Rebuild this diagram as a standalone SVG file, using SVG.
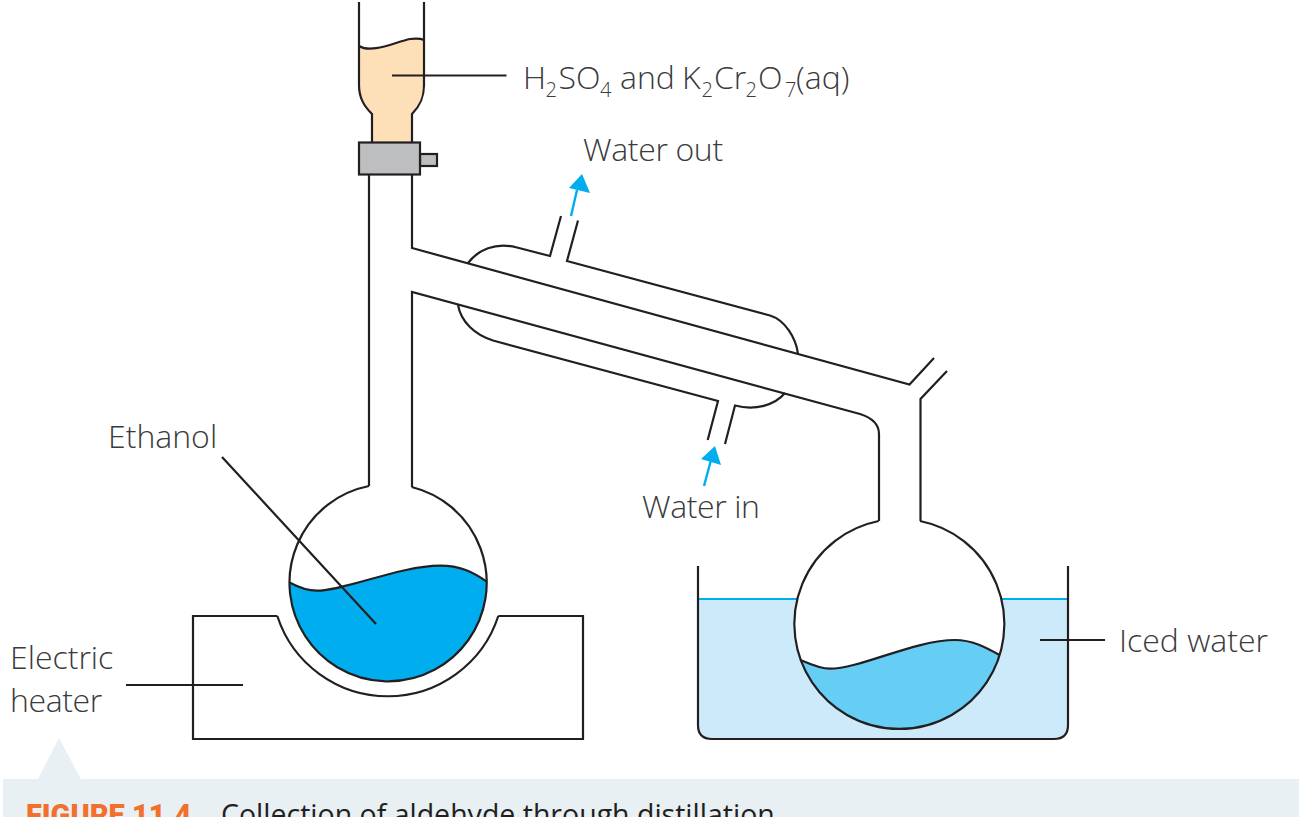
<svg xmlns="http://www.w3.org/2000/svg" width="1299" height="817" viewBox="0 0 1299 817">
<style>
.l{fill:none;stroke:#231f20;stroke-width:2.2}
.o{stroke:#231f20;stroke-width:2.2}
.t{font-family:"Open Sans","Noto Sans","Liberation Sans",sans-serif;font-weight:300;font-size:32px;fill:#3b3a3c}
.s{font-size:20px}
.a{fill:none;stroke:#00aeef;stroke-width:2.4}
.h{fill:#00aeef}
</style>
<rect width="1299" height="817" fill="#fff"/>
<g id="caption">
<path d="M3 817V779H38L59 738L81 779H1299V817Z" fill="#e8f0f4"/>
<text x="26" y="825" font-family="Roboto,'Liberation Sans',sans-serif" font-weight="900" font-size="29" fill="#f26f2c">FIGURE 11.4</text>
<text x="221" y="825" font-family="'Open Sans','Noto Sans',sans-serif" font-size="28.5" fill="#231f20">Collection of aldehyde through distillation</text>
</g>
<g id="iced-water-bath">
<path d="M698 599H1068V725Q1068 739 1054 739H712Q698 739 698 725Z" fill="#cdeafa"/>
<path d="M698 599H1068" fill="none" stroke="#00aeef" stroke-width="2"/>
<path class="l" d="M698 566V725Q698 739 712 739H1054Q1068 739 1068 725V566"/>
</g>
<g id="receiving-flask">
<circle cx="899.3" cy="624" r="105" fill="#fff"/>
<path d="M800.7 660C810 664 820 668.7 830 668.7C860 668.7 915 640 955 640C972 640 985 647 1000 655.3A105 105 0 0 1 800.7 660Z" fill="#66cdf5"/>
<path class="l" d="M800.7 660C810 664 820 668.7 830 668.7C860 668.7 915 640 955 640C972 640 985 647 1000 655.3"/>
<path class="l" d="M878.7 521A105 105 0 1 0 920 521"/>
</g>
<g id="heater">
<path class="l" d="M277.3 616H193V739H583V616H498.3"/>
<path class="l" d="M277.3 616A116.2 116.2 0 0 0 498.3 616"/>
</g>
<g id="reaction-flask">
<path d="M289.5 582.5C298 587 306 590.7 316.7 590.7C345 590.7 400 565.7 440 565.7C460 565.7 473 572 486.7 581.7A98.6 98.6 0 0 1 289.5 582.5Z" fill="#00aeef"/>
<path class="l" d="M289.5 582.5C298 587 306 590.7 316.7 590.7C345 590.7 400 565.7 440 565.7C460 565.7 473 572 486.7 581.7"/>
<path class="l" d="M369 486A98.6 98.6 0 1 0 411.7 487"/>
</g>
<g id="burette">
<path d="M359 46C372 54 395 42 410 39Q420 38 424 40V85C424 98 420 106 412 114V142H372V114C364 106 359 98 359 85Z" fill="#fde0b8"/>
<path class="l" d="M359 46C372 54 395 42 410 39Q420 38 424 40"/>
<path class="l" d="M359 2V85C359 98 364 106 372 114V142M424 2V85C424 98 420 106 412 114V142"/>
<rect class="o" x="420" y="154" width="17" height="12" fill="#bcbec0"/>
<rect class="o" x="359" y="142.500" width="61" height="32" fill="#bcbec0"/>
</g>
<g id="condenser">
<path class="l" d="M369 175V486M412 175V248L909.500 384.500L934 358M412 487V292L860 414Q879 420 879 434V521M947 371L920.500 399V521"/>
<path class="l" d="M468 263C478 250 495 242 517 247.500L550 256L561 216M578 220.500L567 261L770 315.500C785 320 796 338 798 354"/>
<path class="l" d="M458 305C461 322 475 335 493 340.500L718 401L707.700 440M725 444L735 405.500C755 411 775 405 785 393"/>
</g>
<g id="connectors">
<path class="l" d="M392 75.500H506.500M222 457L376 624M126 685H243M1040 640H1105"/>
<path class="a" d="M571 216L577 190"/>
<path class="h" d="M582 174L569 188L590 193Z"/>
<path class="a" d="M704 486L711 460"/>
<path class="h" d="M715 446L701 459L721 465Z"/>
</g>
<g id="labels">
<text class="t" y="88.500"><tspan x="523">H</tspan><tspan class="s" x="545.500" dy="8">2</tspan><tspan x="558.500" dy="-8">SO</tspan><tspan class="s" x="600" dy="8">4</tspan><tspan x="620" dy="-8">and</tspan><tspan x="682">K</tspan><tspan class="s" x="701.500" dy="8">2</tspan><tspan x="714" dy="-8">Cr</tspan><tspan class="s" x="745.500" dy="8">2</tspan><tspan x="758" dy="-8">O</tspan><tspan class="s" x="785" dy="8">7</tspan><tspan x="796" dy="-8">(aq)</tspan></text>
<text class="t" x="583" y="161" letter-spacing="-.35">Water out</text>
<text class="t" x="642" y="518" letter-spacing="-.4">Water in</text>
<text class="t" x="108" y="448">Ethanol</text>
<text class="t" x="10" y="669">Electric</text>
<text class="t" x="10" y="712" letter-spacing="-.4">heater</text>
<text class="t" x="1119" y="652">Iced water</text>
</g>
</svg>
